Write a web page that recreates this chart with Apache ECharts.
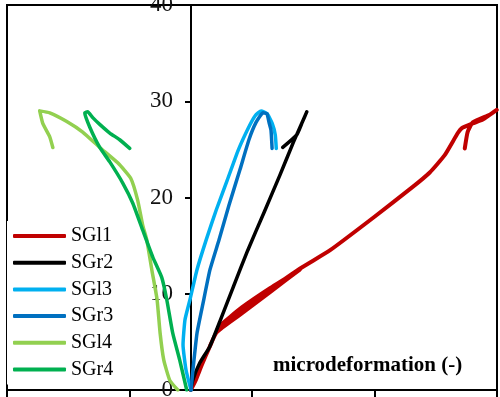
<!DOCTYPE html>
<html>
<head>
<meta charset="utf-8">
<script src="https://cdn.jsdelivr.net/npm/echarts@6/dist/echarts.min.js"></script>
<style>
  html, body { margin: 0; padding: 0; background: #fff; }
  #chart { width: 500px; height: 397px; }
</style>
</head>
<body>
<div id="chart"></div>
<script>
// series names / colours
const seriesNames = ["SGl1", "SGr2", "SGl3", "SGr3", "SGl4", "SGr4"];
const seriesColors = ["#C00000", "#000000", "#00B0F0", "#0070C0", "#92D050", "#00B050"];

// [microdeformation, load]
const sgl1 = [
  [0, 0], [40, 1.0], [90, 2.6], [155, 4.5], [212, 6.0], [400, 7.8], [650, 10.2], [890, 12.5],
  [650, 10.6], [420, 8.6], [230, 6.6], [212, 6.0], [420, 8.4], [890, 12.6], [1135, 14.5],
  [1500, 18.0], [1812, 21.1], [1951, 22.6], [2073, 24.4], [2180, 26.7], [2212, 27.2],
  [2302, 27.7], [2384, 28.1], [2498, 29.1], [2440, 28.6], [2302, 27.8], [2260, 26.8], [2237, 25.1]
];
const sgr2 = [
  [0, 0], [16, 1.0], [73, 2.8], [155, 4.5], [237, 7.1], [350, 10.8], [465, 14.5],
  [600, 18.5], [727, 22.3], [840, 25.8], [947, 28.9], [910, 27.8], [865, 26.5], [751, 25.2]
];
const sgl3 = [
  [2, 0], [-39, 2.1], [-63, 4.7], [-47, 7.3], [-6, 9.4], [51, 12.5], [126, 15.6],
  [208, 18.7], [298, 21.8], [387, 24.9], [469, 27.2], [526, 28.5], [575, 29.0],
  [624, 28.7], [665, 27.7], [690, 26.5], [698, 25.1]
];
const sgr3 = [
  [2, 0], [18, 2.1], [51, 5.9], [100, 9.0], [157, 12.5], [231, 15.6], [312, 19.2],
  [402, 22.9], [475, 26.0], [533, 27.8], [590, 28.8], [622, 28.7], [639, 27.8],
  [655, 27.0], [664, 25.1]
];
const sgl4 = [
  [-106, 0], [-171, 1.0], [-220, 3.1], [-250, 5.9], [-275, 9.4], [-318, 12.5],
  [-359, 15.6], [-392, 17.1], [-433, 19.7], [-490, 22.0], [-596, 23.6], [-743, 25.2],
  [-882, 26.8], [-1012, 27.9], [-1151, 28.8], [-1233, 29.0], [-1208, 27.7],
  [-1151, 26.3], [-1126, 25.2]
];
const sgr4 = [
  [-33, 0], [-90, 3.1], [-147, 5.9], [-196, 9.4], [-237, 11.7], [-310, 13.8],
  [-392, 16.6], [-473, 19.4], [-555, 21.5], [-661, 23.7], [-743, 25.2], [-824, 27.3],
  [-865, 28.8], [-841, 28.9], [-800, 28.3], [-743, 27.6], [-661, 26.7], [-580, 26.0], [-498, 25.1]
];
const seriesData = [sgl1, sgr2, sgl3, sgr3, sgl4, sgr4];

// y tick labels
const yTicks = [0, 10, 20, 30, 40];

const chart = echarts.init(document.getElementById("chart"));

const option = {
  animation: false,
  title: {
    text: "microdeformation (-)",
    left: 273,
    top: 355,
    padding: 0,
    textStyle: { fontFamily: "Liberation Serif", fontSize: 21, fontWeight: "bold", color: "#000" },
  },
  legend: {
    orient: "vertical",
    left: 7,
    top: 221,
    padding: [5, 6, 5, 6],
    backgroundColor: "#fff",
    itemWidth: 53,
    itemHeight: 4,
    itemGap: 6.7,
    icon: "roundRect",
    data: seriesNames,
    textStyle: { fontFamily: "Liberation Serif", fontSize: 20, lineHeight: 19, color: "#000" },
  },
  grid: {
    left: 7,
    right: 3,
    top: 5,
    bottom: 7,
    outerBoundsMode: "none",
    containLabel: false,
    show: true,
    borderColor: "#000",
    borderWidth: 2,
    backgroundColor: "transparent",
  },
  xAxis: [
    {
      type: "value",
      min: -1500,
      max: 2500,
      axisLine: { show: false },
      axisTick: { show: false },
      axisLabel: { show: false },
      splitLine: { show: false },
    },
    {
      type: "value",
      position: "bottom",
      min: 0,
      max: 4,
      interval: 1,
      axisLine: { show: true, onZero: false, lineStyle: { color: "#000", width: 2 } },
      axisTick: { show: true, length: 7, lineStyle: { color: "#000", width: 2 } },
      axisLabel: { show: false },
      splitLine: { show: false },
    },
  ],
  yAxis: {
    type: "value",
    position: "left",
    offset: -184,
    min: yTicks[0],
    max: yTicks[yTicks.length - 1],
    interval: 10,
    axisLine: { show: true, onZero: false, lineStyle: { color: "#000", width: 2 } },
    axisTick: { show: true, length: 6, lineStyle: { color: "#000", width: 2 } },
    axisLabel: { fontFamily: "Liberation Serif", fontSize: 23, color: "#111", margin: 18 },
    splitLine: { show: false },
  },
  series: seriesNames.map((name, i) => ({
    name: name,
    type: "line",
    xAxisIndex: 0,
    data: seriesData[i],
    showSymbol: false,
    smooth: 0.15,
    color: seriesColors[i],
    lineStyle: { width: i === 0 ? 4 : 3.5, cap: "round", join: "round" },
  })),
};

chart.setOption(option);
</script>
</body>
</html>
